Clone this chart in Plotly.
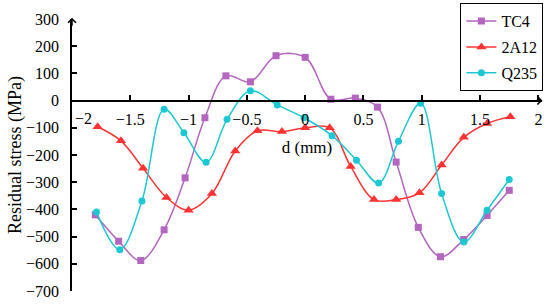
import plotly.graph_objects as go

# ---- data ----
tc4_x = [-1.80, -1.60, -1.41, -1.21, -1.03, -0.86, -0.68, -0.47, -0.25, 0.00,
         0.22, 0.43, 0.62, 0.78, 0.97, 1.16, 1.36, 1.56, 1.75]
tc4_y = [-420, -517, -588, -475, -284, -63, 91, 69, 165, 159,
         5, 9, -24, -226, -466, -574, -511, -422, -330]

a2_x = [-1.78, -1.58, -1.39, -1.19, -1.00, -0.80, -0.60, -0.41, -0.20, 0.00,
        0.21, 0.39, 0.59, 0.78, 0.98, 1.17, 1.36, 1.56, 1.76]
a2_y = [-96, -148, -249, -356, -403, -342, -185, -111, -114, -100,
        -100, -242, -364, -364, -339, -237, -135, -84, -59]

q_x = [-1.79, -1.59, -1.40, -1.21, -1.04, -0.85, -0.67, -0.47, -0.24, -0.01,
       0.23, 0.44, 0.63, 0.80, 0.99, 1.17, 1.36, 1.56, 1.75]
q_y = [-410, -548, -369, -32, -118, -227, -69, 36, -16, -63,
       -129, -219, -303, -149, -10, -342, -520, -403, -290]

x_ticks = [-1.5, -1, -0.5, 0, 0.5, 1, 1.5, 2]
x_labels = ["\u22121.5", "\u22121", "\u22120.5", "0", "0.5", "1", "1.5", "2"]
y_ticks = list(range(-700, 301, 100))

FONT = "Liberation Serif, Times New Roman, serif"

fig = go.Figure()
series = [
    ("TC4", tc4_x, tc4_y, "#B366BF", "square", 7),
    ("2A12", a2_x, a2_y, "#FF3333", "triangle-up", 9),
    ("Q235", q_x, q_y, "#1EC8D2", "circle", 7),
]
for name, xs, ys, col, sym, sz in series:
    fig.add_trace(go.Scatter(
        x=xs, y=ys, name=name, mode="lines+markers", legendgroup=name,
        line=dict(color=col, width=1.5, shape="spline", smoothing=1.0),
        marker=dict(symbol=sym, size=sz, color=col),
        cliponaxis=False,
    ))

fig.update_layout(
    width=550, height=308,
    margin=dict(l=72, r=8, t=19, b=17, autoexpand=False),
    paper_bgcolor="white", plot_bgcolor="white",
    font=dict(family=FONT, size=15, color="black"),
    showlegend=True,
    hovermode=False,
    legend=dict(
        x=1.003, xanchor="right", y=1.058, yanchor="top",
        bordercolor="black", borderwidth=1, bgcolor="white",
        font=dict(family=FONT, size=16, color="black"),
        traceorder="grouped", tracegroupgap=2,
    ),
)

fig.update_xaxes(
    range=[-2, 2.031], automargin=False,
    anchor="free", position=0.7,
    showline=True, linecolor="black", linewidth=1.5,
    ticks="inside", ticklen=5, tickwidth=1.5, tickcolor="black",
    tickvals=x_ticks, ticktext=x_labels, tickangle=0,
    showgrid=False, zeroline=False,
    tickfont=dict(family=FONT, size=16, color="black"),
    ticklabelstandoff=4,
    title=dict(text="d (mm)", font=dict(family=FONT, size=17, color="black"), standoff=14),
)
fig.update_yaxes(
    range=[-700, 300], automargin=False,
    showline=True, linecolor="black", linewidth=1.5,
    ticks="inside", ticklen=5, tickwidth=1.5, tickcolor="black",
    tickvals=y_ticks,
    showgrid=False, zeroline=False,
    tickfont=dict(family=FONT, size=16, color="black"),
    ticklabelstandoff=8,
    title=dict(text="Residual stress (MPa)", font=dict(family=FONT, size=18, color="black"), standoff=0),
)

# "-2" label sits just right of the y axis in the reference
fig.add_annotation(x=-2, y=0, xref="x", yref="y", text="\u22122", showarrow=False,
                   xshift=11, yshift=-18, font=dict(family=FONT, size=16, color="black"))
# axis arrows
fig.add_annotation(x=2.035, y=0, ax=1.97, ay=0, xref="x", yref="y", axref="x", ayref="y",
                   text="", showarrow=True, arrowhead=4, arrowsize=1, arrowwidth=1.5,
                   arrowcolor="black")
fig.add_annotation(x=-2, y=305, ax=-2, ay=270, xref="x", yref="y", axref="x", ayref="y",
                   text="", showarrow=True, arrowhead=4, arrowsize=1, arrowwidth=1.5,
                   arrowcolor="black")

fig.write_html("out.html", config={"displayModeBar": False},
               post_script="document.body.style.margin='0';")
